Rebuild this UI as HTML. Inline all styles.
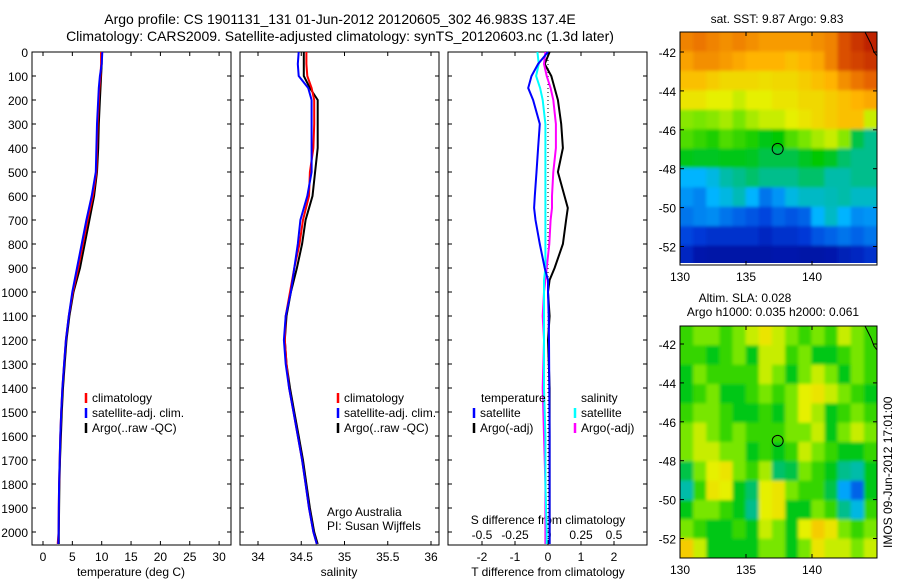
<!DOCTYPE html>
<html><head><meta charset="utf-8"><style>
body{margin:0;background:#fff}
svg{display:block;font-family:"Liberation Sans",sans-serif}
</style></head><body>
<svg id="fig" width="900" height="580" viewBox="0 0 900 580" xmlns="http://www.w3.org/2000/svg">
<defs>
<filter id="soft" x="-5%" y="-5%" width="110%" height="110%"><feGaussianBlur stdDeviation="1.5"/></filter>
<clipPath id="clipTop"><rect x="680" y="32" width="197" height="231"/></clipPath>
<clipPath id="clipBot"><rect x="680" y="326" width="197" height="232"/></clipPath>
</defs>
<text x="340" y="24" font-size="14" text-anchor="middle">Argo profile: CS 1901131_131 01-Jun-2012 20120605_302 46.983S 137.4E</text>
<text x="340" y="41" font-size="14" text-anchor="middle">Climatology: CARS2009. Satellite-adjusted climatology: synTS_20120603.nc (1.3d later)</text>
<g id="g"></g>
</svg>
<script>
// ---- data ----
const depthTicks=[0,100,200,300,400,500,600,700,800,900,1000,1100,1200,1300,1400,1500,1600,1700,1800,1900,2000];
const tempTicks=[0,5,10,15,20,25,30];
const salTicks=[34,34.5,35,35.5,36];
const dtTicks=[-2,-1,0,1,2];
const dsTicks=[-0.5,-0.25,0,0.25,0.5];
const dsTickLabels=["-0.5","-0.25","0","0.25","0.5"];
const depths=[0,50,100,150,200,300,400,500,600,700,800,900,1000,1100,1200,1300,1400,1500,1600,1700,1800,1900,2000,2050];
const tempArgo=[10,10,9.9,9.8,9.7,9.5,9.4,9.2,8.7,7.9,7.1,6.3,5.2,4.5,4.0,3.7,3.4,3.2,3.05,2.9,2.8,2.75,2.7,2.7];
const tempClim=[9.9,9.9,9.8,9.6,9.5,9.3,9.2,9.1,8.5,7.6,6.8,6.0,5.1,4.4,3.9,3.6,3.3,3.1,2.95,2.85,2.75,2.7,2.65,2.5];
const tempSat=[10.1,10.0,9.7,9.5,9.4,9.2,9.1,9.0,8.3,7.4,6.6,5.8,5.0,4.4,3.9,3.6,3.3,3.1,2.95,2.85,2.75,2.7,2.65,2.6];
const salArgo=[34.53,34.53,34.53,34.6,34.69,34.69,34.69,34.66,34.63,34.55,34.51,34.45,34.38,34.33,34.31,34.33,34.37,34.42,34.47,34.52,34.56,34.6,34.65,34.69];
const salClim=[34.56,34.56,34.57,34.62,34.65,34.65,34.64,34.6,34.59,34.52,34.48,34.42,34.37,34.32,34.31,34.33,34.36,34.41,34.46,34.51,34.55,34.59,34.64,34.68];
const salSat=[34.47,34.46,34.47,34.58,34.62,34.62,34.62,34.62,34.57,34.49,34.46,34.42,34.38,34.32,34.3,34.32,34.36,34.41,34.46,34.51,34.55,34.59,34.64,34.68];
const diffDepths=[0,50,100,150,200,300,400,500,600,650,700,800,900,950,1000,1100,1200,1400,1600,1800,2000,2050];
const dTArgo=[0.05,-0.1,0.1,0.2,0.3,0.4,0.45,0.3,0.5,0.6,0.55,0.45,0.2,0.05,0.0,0.05,0.0,0.05,0.05,0.05,0.05,0.05];
const dTSat=[0.0,-0.3,-0.5,-0.6,-0.45,-0.25,-0.3,-0.35,-0.4,-0.42,-0.38,-0.25,-0.1,0.0,0.0,0.02,0.03,0.04,0.05,0.05,0.05,0.05];
const dSSat=[-0.08,-0.07,-0.09,-0.06,-0.04,-0.02,-0.02,-0.02,-0.02,-0.02,-0.02,-0.02,-0.02,-0.03,-0.03,-0.03,-0.03,-0.03,-0.02,-0.02,-0.01,-0.01];
const dSArgo=[-0.02,-0.03,-0.01,0.02,0.04,0.06,0.06,0.04,0.03,0.03,0.02,0.01,-0.01,-0.02,-0.03,-0.04,-0.03,-0.04,-0.03,-0.02,-0.02,-0.02];
const lonTicks=[130,135,140];
const latTicks=[-42,-44,-46,-48,-50,-52];
const sstGrid=[
[0.8,0.82,0.8,0.78,0.8,0.78,0.76,0.76,0.76,0.76,0.78,0.8,0.88,0.92,0.95],
[0.75,0.78,0.78,0.76,0.74,0.72,0.72,0.72,0.7,0.72,0.74,0.8,0.88,0.9,0.92],
[0.7,0.7,0.68,0.66,0.66,0.66,0.65,0.66,0.66,0.68,0.7,0.72,0.78,0.82,0.85],
[0.64,0.64,0.62,0.62,0.6,0.62,0.62,0.64,0.64,0.66,0.66,0.68,0.7,0.72,0.74],
[0.56,0.55,0.56,0.58,0.55,0.58,0.6,0.6,0.62,0.64,0.66,0.68,0.7,0.7,0.6],
[0.52,0.5,0.48,0.52,0.5,0.48,0.45,0.46,0.52,0.55,0.58,0.6,0.56,0.42,0.38],
[0.45,0.44,0.44,0.45,0.45,0.44,0.42,0.42,0.42,0.44,0.46,0.44,0.4,0.38,0.38],
[0.3,0.3,0.32,0.36,0.38,0.4,0.38,0.38,0.38,0.4,0.4,0.36,0.36,0.38,0.38],
[0.26,0.24,0.3,0.32,0.35,0.3,0.22,0.26,0.32,0.34,0.34,0.35,0.36,0.34,0.34],
[0.22,0.24,0.25,0.22,0.2,0.18,0.16,0.2,0.18,0.2,0.3,0.34,0.3,0.25,0.26],
[0.16,0.14,0.12,0.12,0.12,0.12,0.1,0.12,0.12,0.14,0.18,0.2,0.22,0.2,0.22],
[0.1,0.06,0.05,0.05,0.05,0.05,0.05,0.06,0.06,0.05,0.05,0.06,0.08,0.1,0.12]];
const slaGrid=[
[0.5,0.55,0.55,0.5,0.55,0.6,0.64,0.6,0.55,0.5,0.55,0.5,0.6,0.55,0.5],
[0.5,0.5,0.45,0.5,0.55,0.45,0.6,0.6,0.5,0.55,0.45,0.45,0.5,0.55,0.5],
[0.45,0.55,0.5,0.5,0.5,0.5,0.6,0.55,0.45,0.55,0.6,0.55,0.45,0.55,0.5],
[0.45,0.5,0.55,0.45,0.45,0.5,0.55,0.5,0.55,0.62,0.64,0.6,0.55,0.5,0.45],
[0.5,0.55,0.55,0.5,0.45,0.45,0.5,0.45,0.55,0.62,0.58,0.45,0.5,0.55,0.5],
[0.55,0.6,0.55,0.5,0.55,0.5,0.5,0.5,0.55,0.55,0.6,0.45,0.55,0.6,0.55],
[0.55,0.6,0.6,0.55,0.55,0.45,0.5,0.45,0.5,0.6,0.55,0.5,0.45,0.45,0.5],
[0.42,0.55,0.62,0.64,0.55,0.5,0.58,0.4,0.42,0.55,0.5,0.45,0.38,0.36,0.45],
[0.36,0.5,0.64,0.62,0.45,0.4,0.62,0.64,0.55,0.5,0.5,0.42,0.28,0.2,0.45],
[0.45,0.55,0.55,0.5,0.45,0.38,0.62,0.64,0.45,0.45,0.55,0.5,0.38,0.32,0.5],
[0.55,0.5,0.45,0.45,0.5,0.45,0.6,0.55,0.45,0.62,0.68,0.64,0.55,0.5,0.55],
[0.68,0.6,0.45,0.45,0.45,0.45,0.55,0.55,0.45,0.55,0.64,0.6,0.6,0.55,0.6]];
const argoLon=137.4, argoLat=-46.983;

// ---- helpers ----
const NS="http://www.w3.org/2000/svg";
const G=document.getElementById('g');
function mk(tag,attrs,parent){const e=document.createElementNS(NS,tag);for(const k in attrs)e.setAttribute(k,attrs[k]);(parent||G).appendChild(e);return e;}
function txt(x,y,s,anchor,size,parent){const t=mk('text',{x:x,y:y,'font-size':size||12,'text-anchor':anchor||'start'},parent);t.textContent=s;return t;}
const PT=52,PB=545;
const yD=d=>PT+d*0.24;
function profileAxes(x0,x1,name){
  const g=mk('g',{});
  
  
  mk('rect',{x:x0,y:PT,width:x1-x0,height:PB-PT,fill:'none',stroke:'#000','stroke-width':1},g);
  depthTicks.forEach(d=>{mk('line',{x1:x0,x2:x0+4,y1:yD(d),y2:yD(d),stroke:'#000'},g);mk('line',{x1:x1-4,x2:x1,y1:yD(d),y2:yD(d),stroke:'#000'},g);});
  return g;
}
function line(xs,ds,fx,color,w,name,parent){
  const p=mk('polyline',{points:xs.map((v,i)=>fx(v).toFixed(1)+','+yD(ds[i]).toFixed(1)).join(' '),fill:'none',stroke:color,'stroke-width':w},parent);
  
  
}
function legend(x,y,color,label,parent){
  mk('line',{x1:x,x2:x,y1:y-9,y2:y+1,stroke:color,'stroke-width':2.5},parent);
  txt(x+6,y,label,'start',12,parent);
}
function xTick(x,g){mk('line',{x1:x,x2:x,y1:PB,y2:PB-4,stroke:'#000'},g);mk('line',{x1:x,x2:x,y1:PT,y2:PT+4,stroke:'#000'},g);}
// ---- panel 1 temperature ----
const xT=v=>43+v*5.87;
const g1=profileAxes(32,231,'temperature-panel');
depthTicks.forEach(d=>txt(28,yD(d)+5,String(d),'end',12,g1));
tempTicks.forEach(t=>{xTick(xT(t),g1);txt(xT(t),PB+16,String(t),'middle',12,g1);});
txt(131,576,'temperature (deg C)','middle',12,g1);
line(tempArgo,depths,xT,'#000',2,'temp-argo-line',g1);
line(tempClim,depths,xT,'#f00',2,'temp-climatology-line',g1);
line(tempSat,depths,xT,'#00f',2,'temp-satellite-line',g1);
legend(86,402,'#f00','climatology',g1);legend(86,417,'#00f','satellite-adj. clim.',g1);legend(86,432,'#000','Argo(..raw -QC)',g1);
// ---- panel 2 salinity ----
const xS=v=>258+(v-34)*86.5;
const g2=profileAxes(240,439,'salinity-panel');
salTicks.forEach(t=>{xTick(xS(t),g2);txt(xS(t),PB+16,String(t),'middle',12,g2);});
txt(339,576,'salinity','middle',12,g2);
line(salArgo,depths,xS,'#000',2,'sal-argo-line',g2);
line(salClim,depths,xS,'#f00',2,'sal-climatology-line',g2);
line(salSat,depths,xS,'#00f',2,'sal-satellite-line',g2);
legend(338,402,'#f00','climatology',g2);legend(338,417,'#00f','satellite-adj. clim.',g2);legend(338,432,'#000','Argo(..raw -QC)',g2);
txt(327,516,'Argo Australia','start',12,g2);txt(327,530,'PI: Susan Wijffels','start',12,g2);
// ---- panel 3 differences ----
const xdT=v=>548+v*33, xdS=v=>548+v*132;
const g3=profileAxes(448,647,'difference-panel');
dtTicks.forEach(t=>{xTick(xdT(t),g3);txt(xdT(t),PB+16,String(t),'middle',12,g3);});
dsTicks.forEach((t,i)=>txt(xdS(t),539,dsTickLabels[i],'middle',12,g3));
txt(548,524,'S difference from climatology','middle',12,g3);
txt(548,576,'T difference from climatology','middle',12,g3);
mk('line',{x1:548,x2:548,y1:PT,y2:PB,stroke:'#000','stroke-dasharray':'1,3'},g3);
line(dTArgo,diffDepths,xdT,'#000',2,'dT-argo-line',g3);
line(dSArgo,diffDepths,xdS,'#f0f',2,'dS-argo-line',g3);
line(dSSat,diffDepths,xdS,'#0ff',2,'dS-satellite-line',g3);
line(dTSat,diffDepths,xdT,'#00f',2,'dT-satellite-line',g3);
txt(481,402,'temperature','start',12,g3);txt(581,402,'salinity','start',12,g3);
legend(474,417,'#00f','satellite',g3);legend(474,432,'#000','Argo(-adj)',g3);
legend(575,417,'#0ff','satellite',g3);legend(575,432,'#f0f','Argo(-adj)',g3);
// ---- maps ----
const stops=[[0,[0,0,140]],[0.15,[0,60,220]],[0.3,[0,180,255]],[0.38,[0,190,140]],[0.46,[0,200,0]],[0.55,[120,230,0]],[0.62,[230,240,0]],[0.72,[255,180,0]],[0.85,[230,100,0]],[1,[170,0,0]]];
function cmap(v){for(let i=1;i<stops.length;i++){if(v<=stops[i][0]){const a=stops[i-1],b=stops[i],t=(v-a[0])/(b[0]-a[0]);return 'rgb('+a[1].map((c,k)=>Math.round(c+(b[1][k]-c)*t)).join(',')+')';}}return 'rgb(170,0,0)';}
function map(top,bottom,lat42y,grid,name,clip){
  const x0=680,x1=877,lonX=l=>680+(l-130)*13.2,latY=l=>lat42y+(-42-l)*19.45;
  const g=mk('g',{});
  
  
  const cg=mk('g',{'clip-path':'url(#'+clip+')'},g);
  const fg=mk('g',{filter:'url(#soft)'},cg);
  const rows=grid.length,cols=grid[0].length,cw=(x1-x0)/cols,ch=(bottom-top)/rows;
  grid.forEach((row,r)=>row.forEach((v,c)=>{const cell=mk('rect',{x:(x0+c*cw-(c==0?6:0)).toFixed(2),y:(top+r*ch-(r==0?6:0)).toFixed(2),width:(cw+0.5+(c==0||c==cols-1?6:0)).toFixed(2),height:(ch+0.5+(r==0||r==rows-1?6:0)).toFixed(2),fill:cmap(v)},fg);}));
  mk('path',{d:`M${x1-12} ${top} L${x1-6} ${top+12} L${x1-3} ${top+20} L${x1} ${top+24}`,fill:'none',stroke:'#000'},g);
  mk('rect',{x:x0,y:top,width:x1-x0,height:bottom-top,fill:'none',stroke:'#000'},g);
  lonTicks.forEach(l=>{mk('line',{x1:lonX(l),x2:lonX(l),y1:bottom,y2:bottom-4,stroke:'#000'},g);mk('line',{x1:lonX(l),x2:lonX(l),y1:top,y2:top+4,stroke:'#000'},g);txt(lonX(l),bottom+16,String(l),'middle',12,g);});
  latTicks.forEach(l=>{mk('line',{x1:x0,x2:x0+4,y1:latY(l),y2:latY(l),stroke:'#000'},g);mk('line',{x1:x1-4,x2:x1,y1:latY(l),y2:latY(l),stroke:'#000'},g);txt(x0-4,latY(l)+5,String(l),'end',12,g);});
  const c=mk('circle',{cx:lonX(argoLon),cy:latY(argoLat),r:5.5,fill:'none',stroke:'#000','stroke-width':1},g);
  
  
}
map(32,265,52,sstGrid,'sst-map','clipTop');
map(326,558,344,slaGrid,'sla-map','clipBot');
txt(777,23,'sat. SST: 9.87 Argo: 9.83','middle',12);
txt(745,302,'Altim. SLA: 0.028','middle',12);
txt(773,316,'Argo h1000: 0.035 h2000: 0.061','middle',12);
const imos=txt(0,0,'IMOS 09-Jun-2012 17:01:00','start',12);
imos.setAttribute('transform','translate(892,548) rotate(-90)');


</script>
</body></html>
